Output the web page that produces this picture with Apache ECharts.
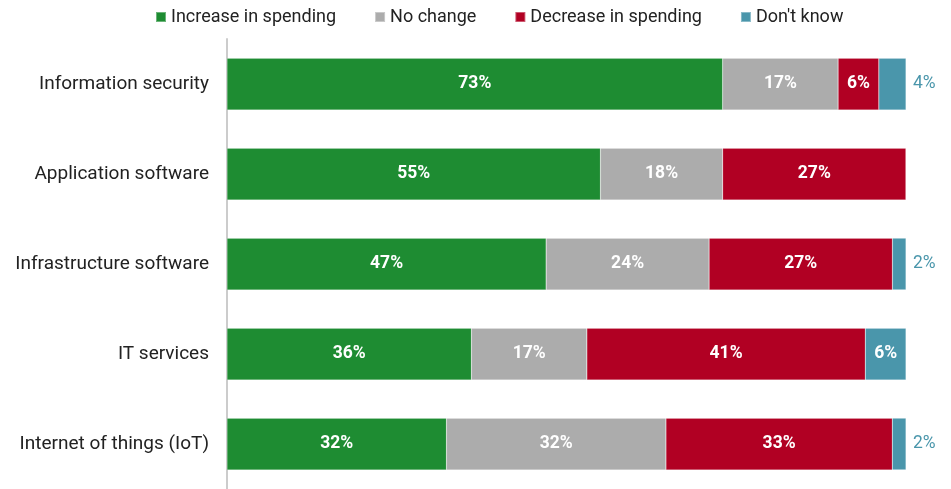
<!DOCTYPE html>
<html>
<head>
<meta charset="utf-8">
<script src="https://cdn.jsdelivr.net/npm/echarts@6/dist/echarts.min.js"></script>
<style>html,body{margin:0;padding:0;background:#fff}#c{width:951px;height:489px}</style>
</head>
<body>
<div id="c"></div>
<script>
const categories = ['Information security', 'Application software', 'Infrastructure software', 'IT services', 'Internet of things (IoT)'];
const seriesNames = ['Increase in spending', 'No change', 'Decrease in spending', "Don't know"];
const increase = [73, 55, 47, 36, 32];
const noChange = [17, 18, 24, 17, 32];
const decrease = [6, 27, 27, 41, 33];
const dontKnow = [4, 0, 2, 6, 2];

const colors = ['#1e8c32', '#acacac', '#b10023', '#4a96ab'];
const FONT = 'Roboto';
const raw = [increase, noChange, decrease, dontKnow];
const totals = categories.map((_, i) => raw.reduce((s, arr) => s + arr[i], 0));

const series = raw.map((arr, si) => ({
  name: seriesNames[si],
  type: 'bar',
  stack: 'total',
  barCategoryGap: '42.5%',
  itemStyle: { color: colors[si], borderColor: 'rgba(255,255,255,0.35)', borderWidth: 0.5 },
  data: arr.map((v, i) => {
    const d = { value: v / totals[i] * 100, raw: v };
    if (si === 3 && v > 0 && v < 5) {
      d.label = { position: 'right', color: colors[3], fontWeight: 'normal', distance: 7 };
    }
    return d;
  }),
  label: {
    show: true,
    position: 'inside',
    color: '#fff',
    fontFamily: FONT,
    fontSize: 17.5,
    fontWeight: 'bold',
    formatter: p => p.data.raw > 0 ? p.data.raw + '%' : ''
  }
}));

const chart = echarts.init(document.getElementById('c'));
chart.setOption({
  animation: false,
  legend: {
    top: 3,
    left: 150,
    itemWidth: 10,
    itemHeight: 10,
    itemGap: 38,
    icon: 'rect',
    textStyle: { fontFamily: FONT, fontSize: 18, color: '#222' },
    data: seriesNames
  },
  grid: { left: 227, right: 45, top: 39, bottom: -3, containLabel: false },
  xAxis: { type: 'value', min: 0, max: 100, show: false },
  yAxis: {
    type: 'category',
    inverse: true,
    data: categories,
    axisLine: { show: true, lineStyle: { color: '#cccccc', width: 2 } },
    axisTick: { show: false },
    axisLabel: { fontFamily: FONT, fontSize: 19, color: '#222', margin: 18 }
  },
  series
});
</script>
</body>
</html>
